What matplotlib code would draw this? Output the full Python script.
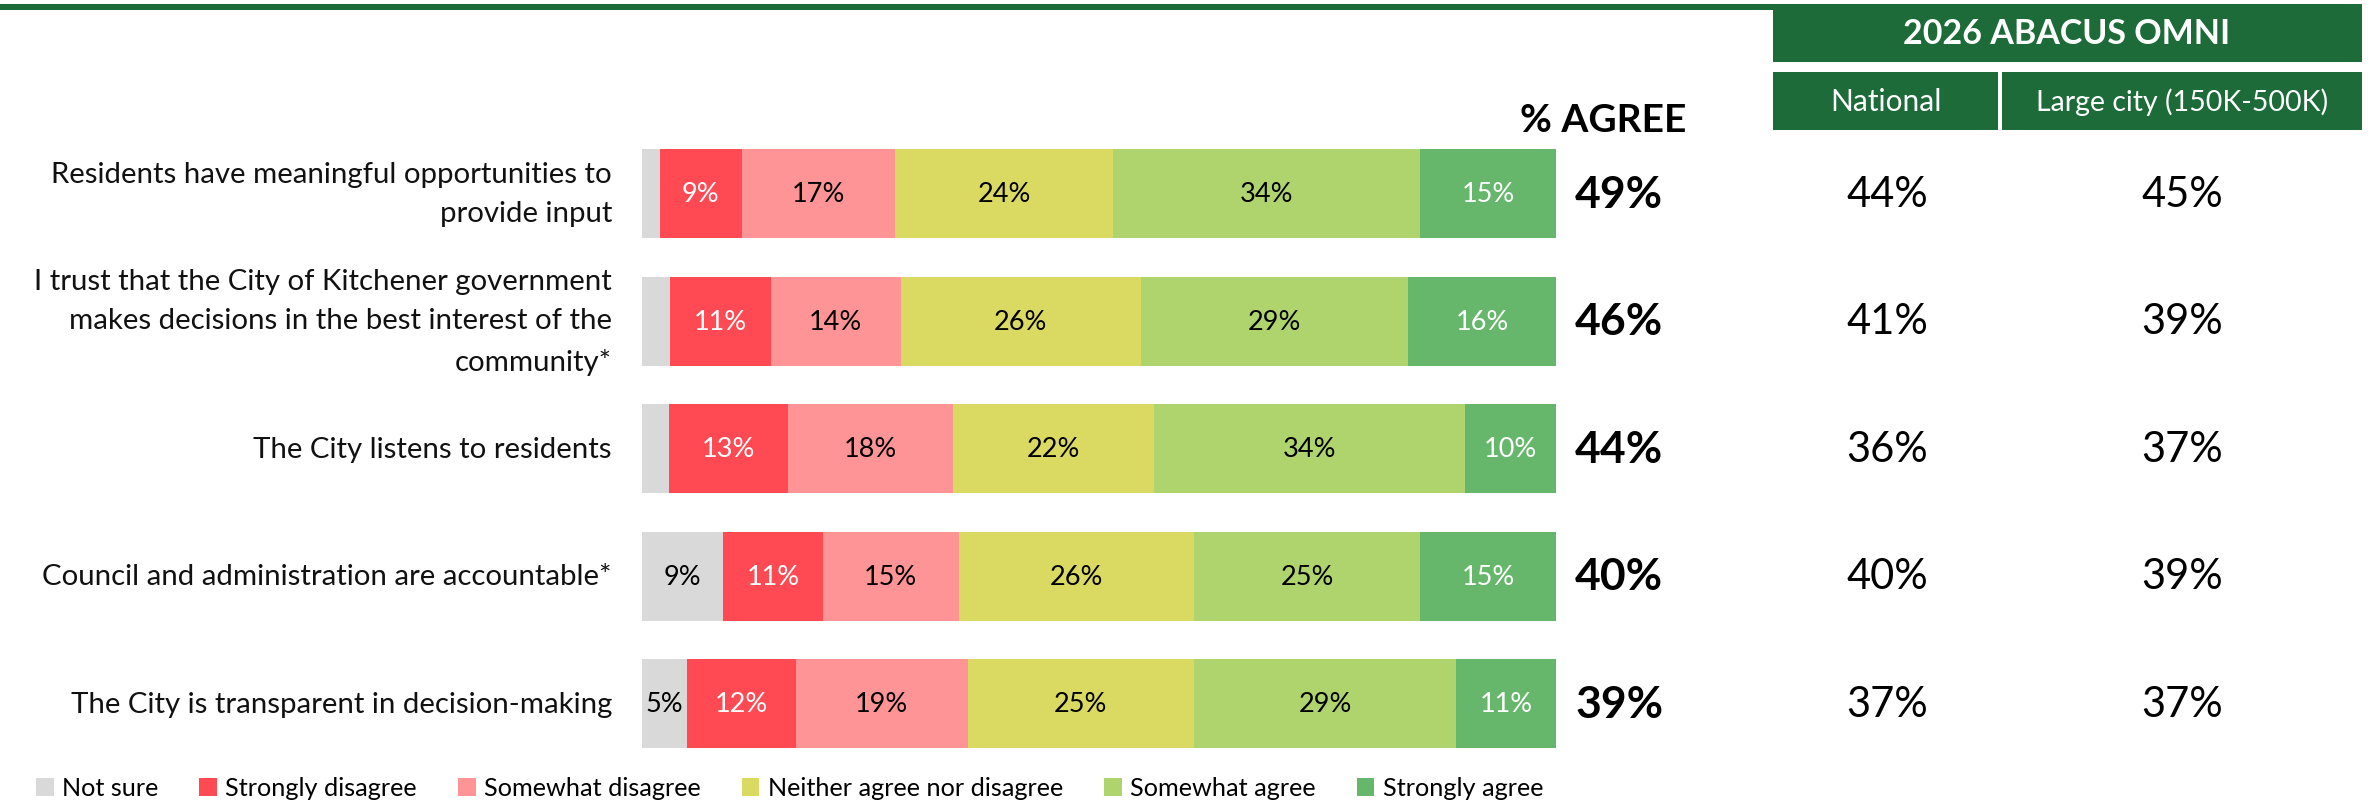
import numpy as np
import matplotlib
matplotlib.use("Agg")
import matplotlib.pyplot as plt
from matplotlib.patches import Patch, Rectangle
from matplotlib.transforms import blended_transform_factory

plt.rcParams['font.family'] = ['Lato', 'DejaVu Sans']

# ---------------- data ----------------
categories = [
    "Residents have meaningful opportunities to\nprovide input",
    "I trust that the City of Kitchener government\nmakes decisions in the best interest of the\ncommunity*",
    "The City listens to residents",
    "Council and administration are accountable*",
    "The City is transparent in decision-making",
]
series_names = ["Not sure", "Strongly disagree", "Somewhat disagree",
                "Neither agree nor disagree", "Somewhat agree", "Strongly agree"]
not_sure          = [2, 3, 3, 9, 5]
strongly_disagree = [9, 11, 13, 11, 12]
somewhat_disagree = [17, 14, 18, 15, 19]
neither           = [24, 26, 22, 26, 25]
somewhat_agree    = [34, 29, 34, 25, 29]
strongly_agree    = [15, 16, 10, 15, 11]
pct_agree         = [49, 46, 44, 40, 39]
national          = [44, 41, 36, 40, 37]
large_city        = [45, 39, 37, 39, 37]

colors = ["#D9D9D9", "#FF4A54", "#FF9496", "#DADA62", "#AFD46E", "#66B76B"]
label_colors = ["black", "white", "black", "black", "black", "white"]
GREEN = "#1C6B38"

W, H = 2374, 803
fig = plt.figure(figsize=(W / 100, H / 100), dpi=100)

def fx(px):
    return px / W

def fy(py):
    return 1 - py / H

# bar axes
ax = fig.add_axes([fx(642), fy(768.4), fx(1556) - fx(642), fy(130.9) - fy(768.4)])
series = np.array([not_sure, strongly_disagree, somewhat_disagree,
                   neither, somewhat_agree, strongly_agree], dtype=float)
totals = series.sum(axis=0)
shares = series / totals * 100
y = np.arange(len(categories))
left = np.zeros(len(categories))
for k, name in enumerate(series_names):
    ax.barh(y, shares[k], left=left, height=0.70, color=colors[k],
            linewidth=0, label=name)
    for i in range(len(categories)):
        if series[k, i] >= 5:
            ax.text(left[i] + shares[k, i] / 2, y[i], f"{int(series[k, i])}%",
                    ha="center", va="center", fontsize=19.5,
                    color=label_colors[k])
    left += shares[k]
ax.set_xlim(0, 100)
ax.set_ylim(len(categories) - 0.5, -0.5)
ax.axis("off")

tr = blended_transform_factory(fig.transFigure, ax.transData)
for i, cat in enumerate(categories):
    ax.text(fx(612), y[i], cat, transform=tr, ha="right", va="center",
            multialignment="right", fontsize=21.2, linespacing=1.65,
            color="#111111")
    ax.text(fx(1575), y[i], f"{pct_agree[i]}%", transform=tr, ha="left",
            va="center", fontsize=32, fontweight="bold", color="black")
    ax.text(fx(1887), y[i], f"{national[i]}%", transform=tr, ha="center",
            va="center", fontsize=30, color="black")
    ax.text(fx(2182), y[i], f"{large_city[i]}%", transform=tr, ha="center",
            va="center", fontsize=30, color="black")

# header decorations
fig.add_artist(Rectangle((0, fy(11)), fx(1773), fy(5) - fy(11),
                         transform=fig.transFigure, color=GREEN, lw=0))
fig.add_artist(Rectangle((fx(1773), fy(63)), fx(2362) - fx(1773), fy(5) - fy(63),
                         transform=fig.transFigure, color=GREEN, lw=0))
fig.add_artist(Rectangle((fx(1773), fy(131)), fx(1998) - fx(1773), fy(73) - fy(131),
                         transform=fig.transFigure, color=GREEN, lw=0))
fig.add_artist(Rectangle((fx(2002), fy(131)), fx(2362) - fx(2002), fy(73) - fy(131),
                         transform=fig.transFigure, color=GREEN, lw=0))
fig.text(fx(2067), fy(34), "2026 ABACUS OMNI", ha="center", va="center",
         fontsize=24.5, fontweight="bold", color="white")
fig.text(fx(1886), fy(102), "National", ha="center", va="center",
         fontsize=21.5, color="white")
fig.text(fx(2182), fy(102), "Large city (150K-500K)", ha="center", va="center",
         fontsize=20.5, color="white")
fig.text(fx(1603), fy(121), "% AGREE", ha="center", va="center",
         fontsize=28, fontweight="bold", color="black")

# legend
handles = [Patch(facecolor=c, edgecolor="none", label=n)
           for c, n in zip(colors, series_names)]
fig.legend(handles=handles, loc="center left", bbox_to_anchor=(fx(36), fy(789)),
           ncol=6, frameon=False, fontsize=18.2, handlelength=0.7,
           handleheight=0.7, handletextpad=0.33, columnspacing=1.62,
           borderpad=0, borderaxespad=0)

fig.savefig("out.png", dpi=100)
